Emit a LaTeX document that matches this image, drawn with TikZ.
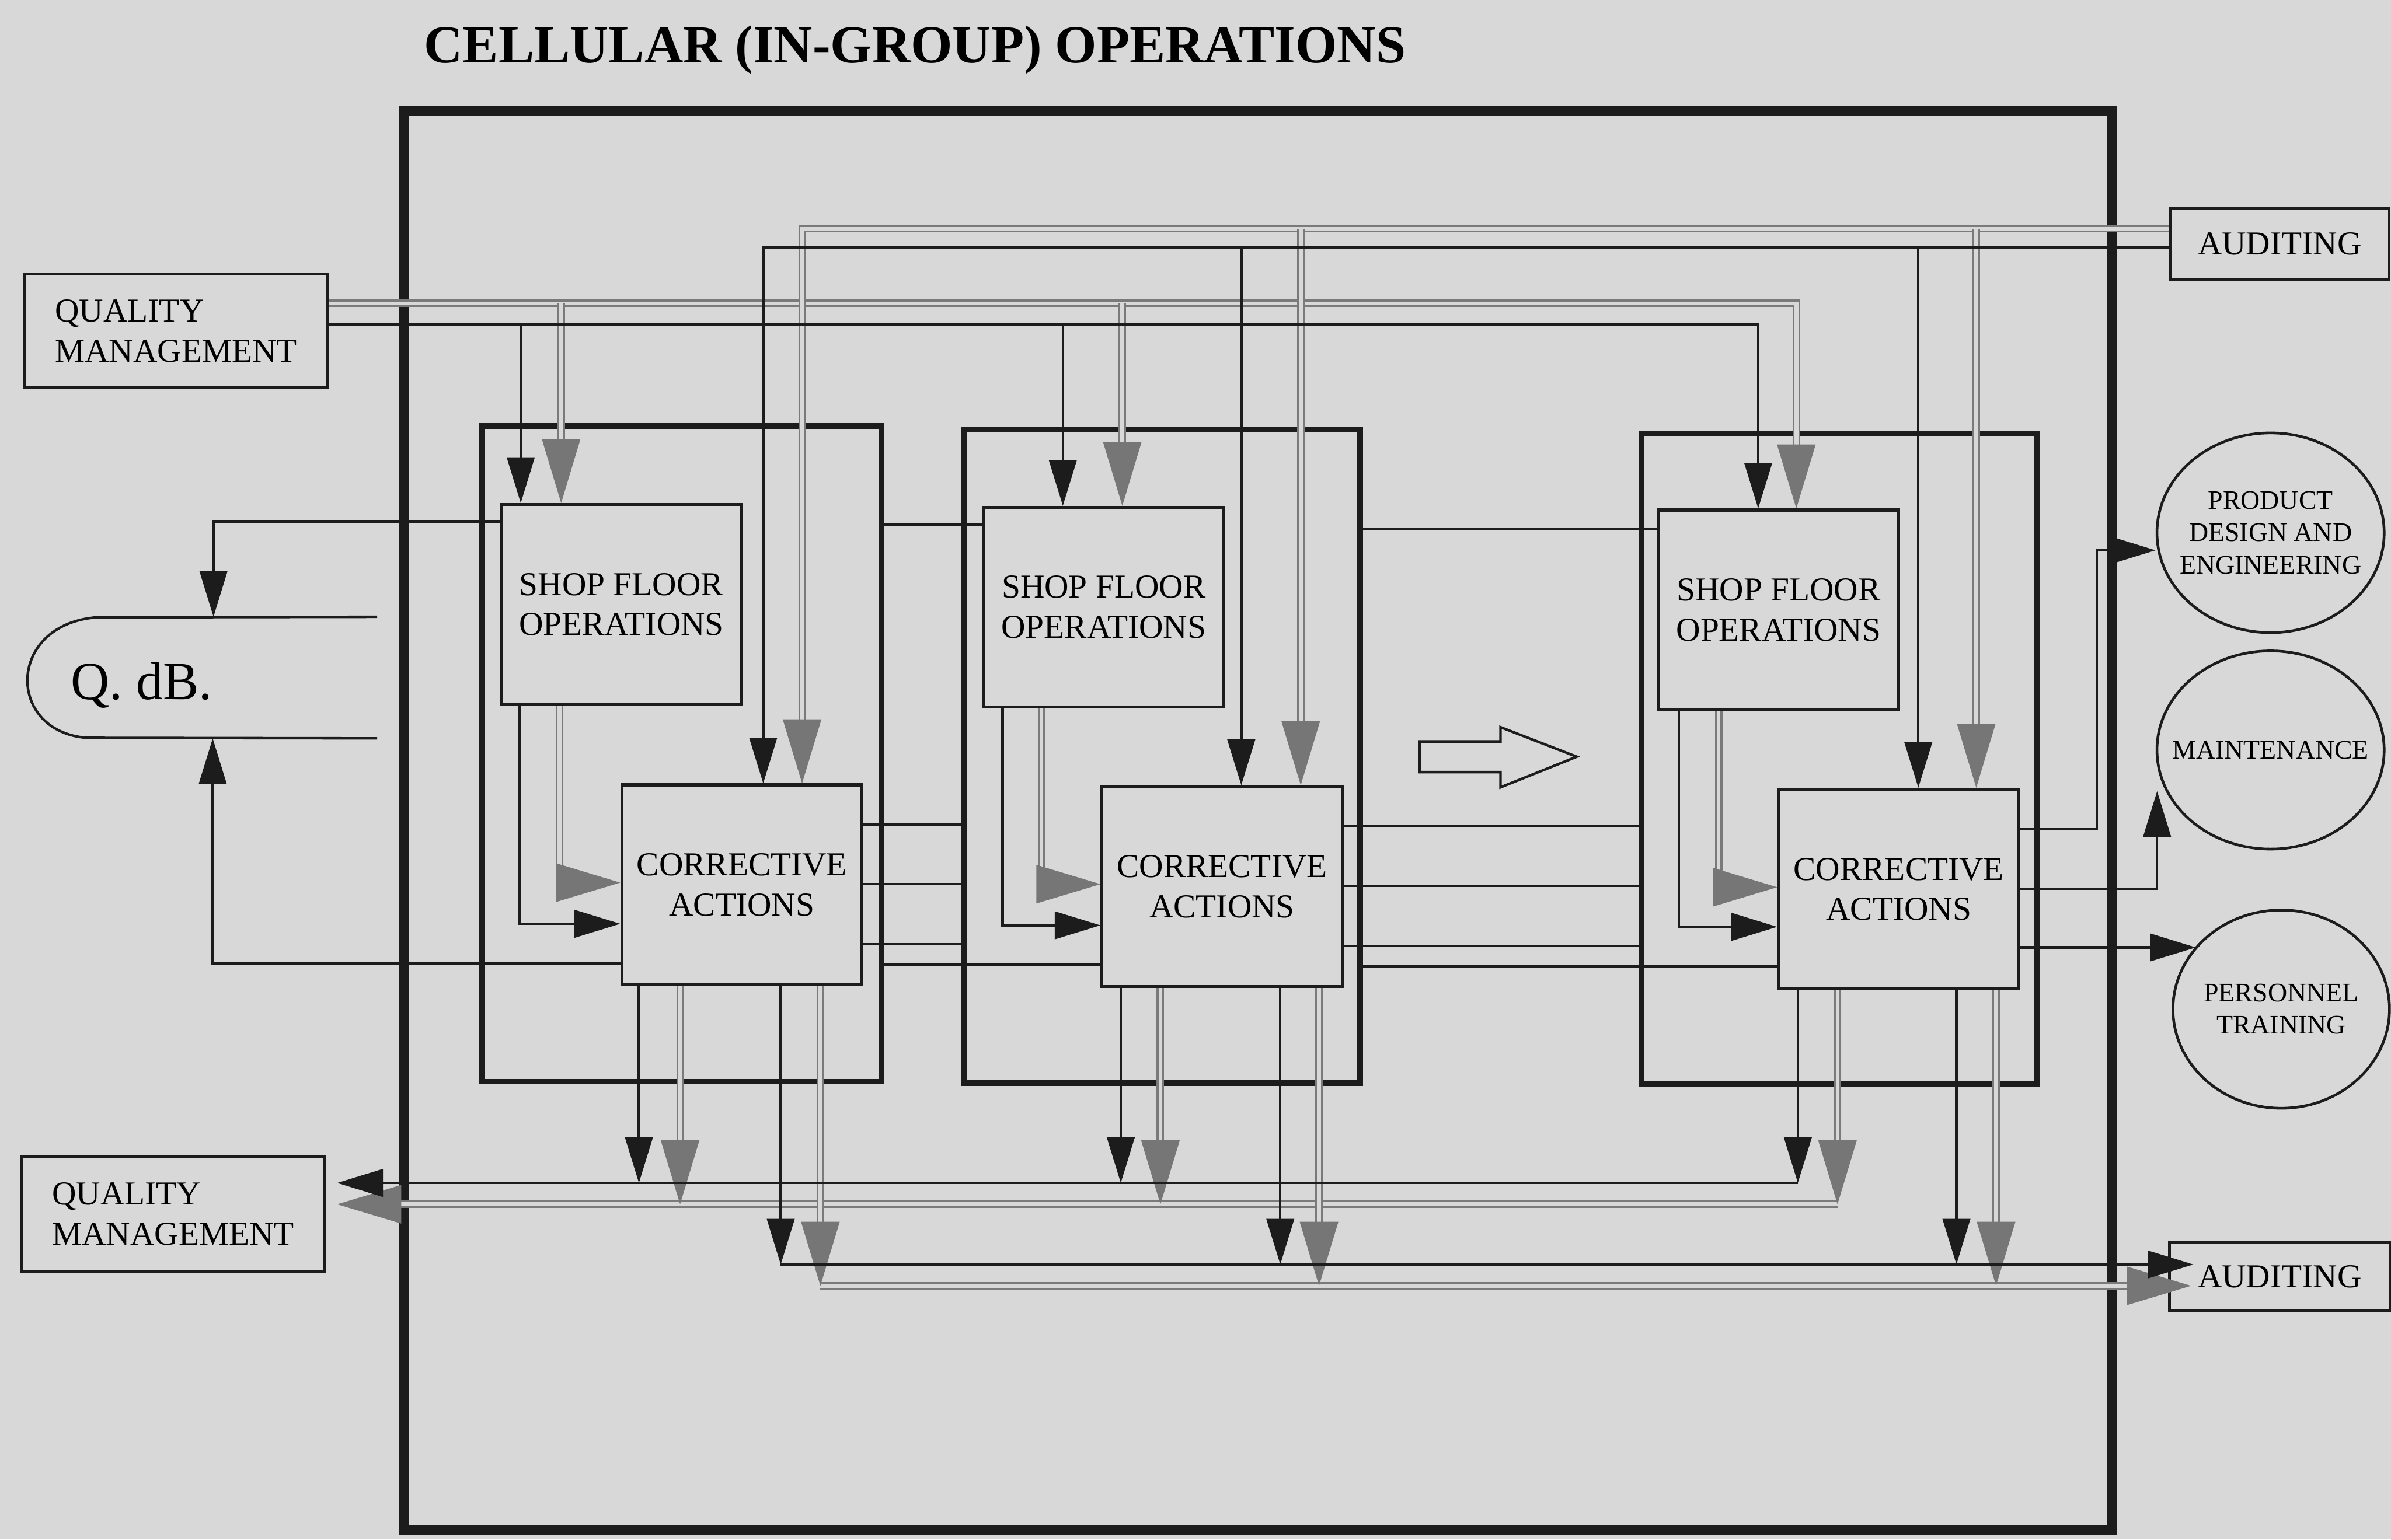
\documentclass[tikz,border=0pt]{standalone}
\usepackage{fontspec}
\setmainfont{Liberation Serif}
\usetikzlibrary{arrows.meta,shapes.geometric}
\definecolor{paper}{RGB}{216,216,216}
\definecolor{ink}{RGB}{28,28,28}
\definecolor{pipegray}{RGB}{122,122,122}
\definecolor{pipetip}{RGB}{118,118,118}

\begin{document}
\begin{tikzpicture}[x=0.2mm,y=-0.2mm,
  box/.style={draw=ink,line width=0.4mm,minimum width=31.5mm,minimum height=26.2mm,align=center,inner sep=0pt,font=\fontsize{12.5}{15}\selectfont},
  cellbox/.style={draw=ink,line width=0.75mm,inner sep=0pt},
  outbox/.style={draw=ink,line width=0.35mm,align=left,inner sep=0pt,font=\fontsize{12.5}{15}\selectfont},
  bubble/.style={draw=ink,ellipse,line width=0.35mm,inner sep=0pt},
  bubtext/.style={align=center,inner sep=0pt,font=\fontsize{10}{12}\selectfont},
  wire/.style={draw=ink,line width=0.33mm},
  barr/.style={wire,-{Triangle[length=6mm,width=3.6mm]}},
  pipe/.style={draw=pipegray,line width=0.25mm,double=paper,double distance=0.5mm},
  parr/.style={pipe,-{Triangle[length=8.4mm,width=5mm,color=pipetip]}},
]
\fill[paper] (0,0) rectangle (1568,1010);
\useasboundingbox (0,0) rectangle (1568,1010);

% title and outer frame
\node[font=\bfseries\fontsize{20}{24}\selectfont,anchor=base] (title) at (600,41) {CELLULAR (IN-GROUP) OPERATIONS};
\draw[ink,line width=1.3mm] (265,73) rectangle (1385,1004);

% units outside the cells
\node[outbox,minimum width=39.8mm,minimum height=14.8mm] (qm1) at (115.5,217) {QUALITY\\MANAGEMENT};
\node[outbox,minimum width=39.7mm,minimum height=15mm] (qm2) at (113.5,796.5) {QUALITY\\MANAGEMENT};
\node[outbox,minimum width=28.7mm,minimum height=9.3mm] (aud1) at (1495,160) {AUDITING};
\node[outbox,minimum width=28.9mm,minimum height=9mm] (aud2) at (1495,837.5) {AUDITING};
\node[bubble,minimum width=29.8mm,minimum height=26.2mm] (pde) at (1489,349.5) {};
\node[bubtext] (pdetext) at (pde) {PRODUCT\\DESIGN AND\\ENGINEERING};
\node[bubble,minimum width=29.8mm,minimum height=26mm] (mnt) at (1489,492) {};
\node[bubtext] (mnttext) at (mnt) {MAINTENANCE};
\node[bubble,minimum width=28.4mm,minimum height=26mm] (per) at (1496,662) {};
\node[bubtext] (pertext) at (per) {PERSONNEL\\TRAINING};
\coordinate (mnt-in) at (1414.6,519);
\coordinate (per-in) at (1440,621.5);

% quality database
\node[minimum width=46mm,minimum height=15.8mm,inner sep=0pt] (qdb) at (132,444.5) {};
\draw[wire] (qdb.north east) -- (63,405) .. controls (4,410) and (4,480) .. (57,484) -- (qdb.south east);
\node[font=\fontsize{20}{24}\selectfont,anchor=base west,inner sep=0pt] (qdblabel) at (46,458.7) {Q. dB.};

% the three cells
\node[cellbox,minimum width=52.4mm,minimum height=86mm] (cell1) at (446.9,494.5) {};
\node[cellbox,minimum width=51.9mm,minimum height=85.8mm] (cell2) at (762.3,496.1) {};
\node[cellbox,minimum width=51.9mm,minimum height=85.4mm] (cell3) at (1206.3,497.9) {};

\node[box] (sfo1) at (407.5,396.5) {SHOP FLOOR\\OPERATIONS};
\node[box] (sfo2) at (723.8,398.3) {SHOP FLOOR\\OPERATIONS};
\node[box] (sfo3) at (1166.4,400.1) {SHOP FLOOR\\OPERATIONS};
\node[box] (ca1) at (486.5,580.4) {CORRECTIVE\\ACTIONS};
\node[box] (ca2) at (801.4,581.6) {CORRECTIVE\\ACTIONS};
\node[box] (ca3) at (1245.2,583.3) {CORRECTIVE\\ACTIONS};

\draw[wire,fill=paper] (931,486.4) -- (984,486.4) -- (984,477) -- (1034,496.4) -- (984,516.5) -- (984,506.5) -- (931,506.5) -- cycle;

% grey flows
\draw[parr] (qm1.east |- 0,199) -| (sfo3.north -| 1178,0);
\foreach \x/\c in {368/1,736/2} \draw[parr] (\x,199) -- (sfo\c.north -| \x,0);
\draw[parr] (aud1.west |- 0,150) -| (ca1.north -| 526,0);
\foreach \x/\c in {853/2,1296/3} \draw[parr] (\x,150) -- (ca\c.north -| \x,0);
\foreach \c/\x/\y in {1/367/579,2/683/580,3/1127/582} \draw[parr] (sfo\c.south -| \x,0) |- (ca\c.west |- 0,\y);
\draw[parr,shorten >=1.5mm] (1205,790) -- (qm2.east |- 0,790);
\draw[parr,shorten >=-3mm] (538,843.5) -- (aud2.west |- 0,843.5);
\foreach \c/\x in {1/446,2/761,3/1205} \draw[parr] (ca\c.south -| \x,0) -- (\x,790);
\foreach \c/\x in {1/538,2/865,3/1309} \draw[parr] (ca\c.south -| \x,0) -- (\x,843.5);

% black flows
\draw[barr] (qm1.east |- 0,213) -| (sfo3.north -| 1153,0);
\foreach \x/\c in {341.5/1,697/2} \draw[barr] (\x,213) -- (sfo\c.north -| \x,0);
\draw[barr] (aud1.west |- 0,162.5) -| (ca1.north -| 500.5,0);
\foreach \x/\c in {814/2,1258/3} \draw[barr] (\x,162.5) -- (ca\c.north -| \x,0);
\foreach \c/\x/\y in {1/340.6/606,2/657.5/607,3/1101/608} \draw[barr] (sfo\c.south -| \x,0) |- (ca\c.west |- 0,\y);
\draw[barr,shorten >=1.5mm] (1179,776) -- (qm2.east |- 0,776);
\draw[barr,shorten >=-3.3mm] (512,829.5) -- (aud2.west |- 0,829.5);
\foreach \c/\x in {1/419,2/735,3/1179} \draw[barr] (ca\c.south -| \x,0) -- (\x,776);
\foreach \c/\x in {1/512,2/839.6,3/1283} \draw[barr] (ca\c.south -| \x,0) -- (\x,829.5);

% to and from the database
\draw[barr] (sfo1.west |- 0,342) -| (qdb.north -| 140,0);
\draw[barr] (ca1.west |- 0,632) -| (qdb.south -| 139.5,0);

% links from one cell to the next
\draw[wire] (cell1.east |- 0,344) -- (sfo2.west |- 0,344);
\draw[wire] (cell2.east |- 0,347) -- (sfo3.west |- 0,347);
\foreach \y in {541,580,619.5} \draw[wire] (ca1.east |- 0,\y) -- (cell2.west |- 0,\y);
\foreach \y in {542,581,620.5} \draw[wire] (ca2.east |- 0,\y) -- (cell3.west |- 0,\y);
\draw[wire] (cell1.east |- 0,633) -- (ca2.west |- 0,633);
\draw[wire] (cell2.east |- 0,634) -- (ca3.west |- 0,634);

% support functions
\draw[barr] (ca3.east |- 0,544) -- (1375,544) |- (pde.west |- 0,361);
\draw[barr] (ca3.east |- 0,583) -| (mnt-in);
\draw[barr] (ca3.east |- 0,621.5) -- (per-in);
\end{tikzpicture}
\end{document}
